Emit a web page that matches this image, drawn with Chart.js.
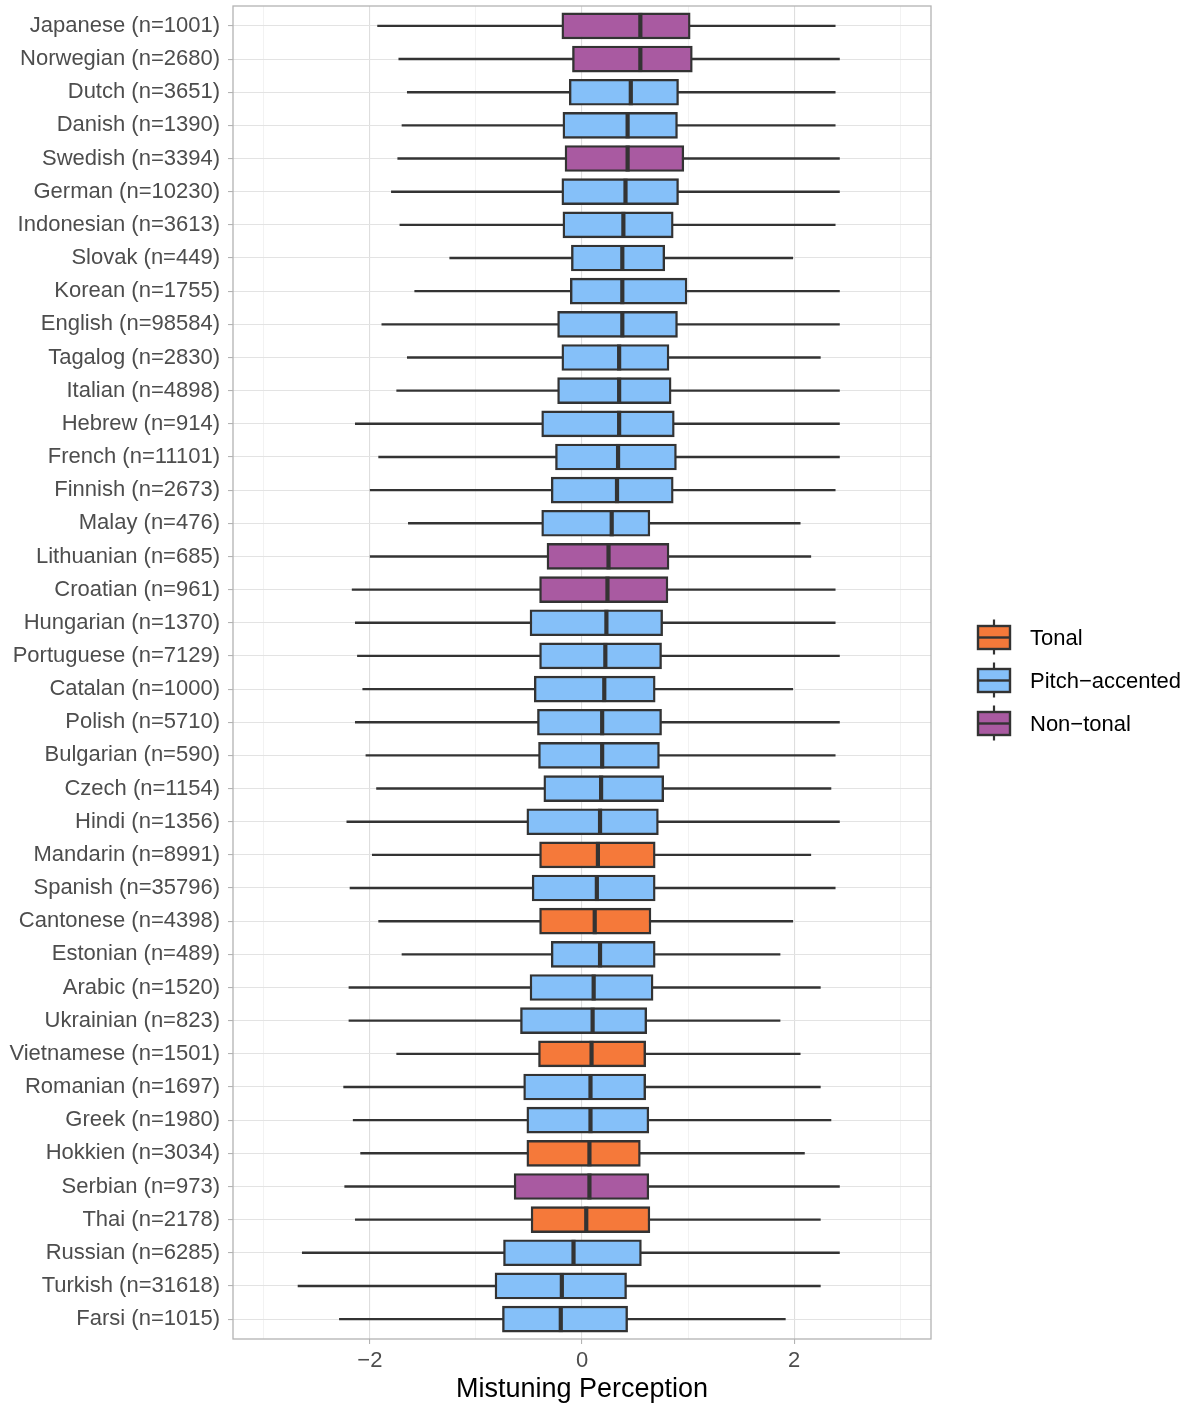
<!DOCTYPE html>
<html>
<head>
<meta charset="utf-8">
<script src="https://cdn.jsdelivr.net/npm/chart.js@4.4.1/dist/chart.umd.min.js"></script>
<style>
  html, body { margin:0; padding:0; background:#fff; }
  #wrap { position:relative; width:1188px; height:1406px; }
</style>
</head>
<body>
<div id="wrap"><canvas id="box" width="1188" height="1406"></canvas></div>
<script>
// languages, top to bottom
const languages = [
  'Japanese (n=1001)','Norwegian (n=2680)','Dutch (n=3651)','Danish (n=1390)','Swedish (n=3394)',
  'German (n=10230)','Indonesian (n=3613)','Slovak (n=449)','Korean (n=1755)','English (n=98584)',
  'Tagalog (n=2830)','Italian (n=4898)','Hebrew (n=914)','French (n=11101)','Finnish (n=2673)',
  'Malay (n=476)','Lithuanian (n=685)','Croatian (n=961)','Hungarian (n=1370)','Portuguese (n=7129)',
  'Catalan (n=1000)','Polish (n=5710)','Bulgarian (n=590)','Czech (n=1154)','Hindi (n=1356)',
  'Mandarin (n=8991)','Spanish (n=35796)','Cantonese (n=4398)','Estonian (n=489)','Arabic (n=1520)',
  'Ukrainian (n=823)','Vietnamese (n=1501)','Romanian (n=1697)','Greek (n=1980)','Hokkien (n=3034)',
  'Serbian (n=973)','Thai (n=2178)','Russian (n=6285)','Turkish (n=31618)','Farsi (n=1015)'
];
const langType = [
  'Non-tonal','Non-tonal','Pitch-accented','Pitch-accented','Non-tonal',
  'Pitch-accented','Pitch-accented','Pitch-accented','Pitch-accented','Pitch-accented',
  'Pitch-accented','Pitch-accented','Pitch-accented','Pitch-accented','Pitch-accented',
  'Pitch-accented','Non-tonal','Non-tonal','Pitch-accented','Pitch-accented',
  'Pitch-accented','Pitch-accented','Pitch-accented','Pitch-accented','Pitch-accented',
  'Tonal','Pitch-accented','Tonal','Pitch-accented','Pitch-accented',
  'Pitch-accented','Tonal','Pitch-accented','Pitch-accented','Tonal',
  'Non-tonal','Tonal','Pitch-accented','Pitch-accented','Pitch-accented'
];
// box stats
const whiskerLow = [-1.93,-1.73,-1.65,-1.70,-1.74,-1.80,-1.72,-1.25,-1.58,-1.89,
  -1.65,-1.75,-2.14,-1.92,-2.00,-1.64,-2.00,-2.17,-2.14,-2.12,
  -2.07,-2.14,-2.04,-1.94,-2.22,-1.98,-2.19,-1.92,-1.70,-2.20,
  -2.20,-1.75,-2.25,-2.16,-2.09,-2.24,-2.14,-2.64,-2.68,-2.29];
const q1 = [-0.19,-0.09,-0.12,-0.18,-0.16,-0.19,-0.18,-0.10,-0.11,-0.23,
  -0.19,-0.23,-0.38,-0.25,-0.29,-0.38,-0.33,-0.40,-0.49,-0.40,
  -0.45,-0.42,-0.41,-0.36,-0.52,-0.40,-0.47,-0.40,-0.29,-0.49,
  -0.58,-0.41,-0.55,-0.52,-0.52,-0.64,-0.48,-0.74,-0.82,-0.75];
const median = [0.55,0.55,0.46,0.43,0.43,0.41,0.39,0.38,0.38,0.38,
  0.35,0.35,0.35,0.34,0.33,0.28,0.25,0.24,0.23,0.22,
  0.21,0.19,0.19,0.18,0.17,0.15,0.14,0.12,0.17,0.11,
  0.10,0.09,0.08,0.08,0.07,0.07,0.04,-0.08,-0.19,-0.20];
const q3 = [1.02,1.04,0.91,0.90,0.96,0.91,0.86,0.78,0.99,0.90,
  0.82,0.84,0.87,0.89,0.86,0.64,0.82,0.81,0.76,0.75,
  0.69,0.75,0.73,0.77,0.72,0.69,0.69,0.65,0.69,0.67,
  0.61,0.60,0.60,0.63,0.55,0.63,0.64,0.56,0.42,0.43];
const whiskerHigh = [2.39,2.43,2.39,2.39,2.43,2.43,2.39,1.99,2.43,2.43,
  2.25,2.43,2.43,2.43,2.39,2.06,2.16,2.39,2.39,2.43,
  1.99,2.43,2.39,2.35,2.43,2.16,2.39,1.99,1.87,2.25,
  1.87,2.06,2.25,2.35,2.10,2.43,2.25,2.43,2.25,1.92];

const legendTypes = ['Tonal','Pitch-accented','Non-tonal'];
const legendLabels = ['Tonal','Pitch\u2212accented','Non\u2212tonal'];
const typeColors = { 'Tonal':'#F5793A', 'Pitch-accented':'#85C0F9', 'Non-tonal':'#A95AA1' };
const xTicks = [-3,-2,-1,0,1,2,3];

const FONT = '"Liberation Sans", Arial, sans-serif';
const INK = '#333333';

// whiskers behind boxes, medians + panel border on top, legend on right
const boxExtras = {
  id: 'boxExtras',
  beforeDatasetsDraw(chart){
    const {ctx, scales:{x, y}} = chart;
    ctx.save();
    ctx.strokeStyle = INK; ctx.lineWidth = 2.4;
    languages.forEach((l, i)=>{
      const py = y.getPixelForValue(i);
      ctx.beginPath();
      ctx.moveTo(x.getPixelForValue(whiskerLow[i]), py);
      ctx.lineTo(x.getPixelForValue(whiskerHigh[i]), py);
      ctx.stroke();
    });
    ctx.restore();
  },
  afterDatasetsDraw(chart){
    const {ctx, chartArea:a, scales:{x, y}} = chart;
    ctx.save();
    ctx.strokeStyle = INK; ctx.lineWidth = 4.2;
    languages.forEach((l, i)=>{
      const py = y.getPixelForValue(i);
      const px = x.getPixelForValue(median[i]);
      ctx.beginPath();
      ctx.moveTo(px, py - 13); ctx.lineTo(px, py + 13);
      ctx.stroke();
    });
    // panel border
    ctx.strokeStyle = '#b3b3b3'; ctx.lineWidth = 1.3;
    ctx.strokeRect(a.left, a.top, a.right - a.left, a.bottom - a.top);
    // legend
    legendTypes.forEach((t, i)=>{
      const cy = 637.5 + 43*i;
      ctx.strokeStyle = INK; ctx.lineWidth = 2.2;
      ctx.beginPath(); ctx.moveTo(994, cy - 18); ctx.lineTo(994, cy + 17); ctx.stroke();
      ctx.fillStyle = typeColors[t];
      ctx.fillRect(978, cy - 11.5, 32, 23);
      ctx.lineWidth = 2.4;
      ctx.strokeRect(978, cy - 11.5, 32, 23);
      ctx.beginPath(); ctx.moveTo(978, cy); ctx.lineTo(1010, cy); ctx.stroke();
      ctx.fillStyle = '#000';
      ctx.font = '22px ' + FONT;
      ctx.textBaseline = 'middle';
      ctx.textAlign = 'left';
      ctx.fillText(legendLabels[i], 1030, cy + 1);
    });
    ctx.restore();
  }
};

document.addEventListener('DOMContentLoaded', function(){
  const ctx = document.getElementById('box').getContext('2d');
  new Chart(ctx, {
    type: 'bar',
    data: {
      datasets: [{
        data: languages.map((l, i)=>({ x: [q1[i], q3[i]], y: i })),
        backgroundColor: langType.map(t => typeColors[t]),
        borderColor: INK,
        borderWidth: 2.4,
        borderSkipped: false,
        barThickness: 26
      }]
    },
    options: {
      indexAxis: 'y',
      responsive: false,
      maintainAspectRatio: false,
      animation: false,
      devicePixelRatio: 1,
      layout: { padding: { top: 6, right: 257, bottom: 0, left: 0 } },
      plugins: { legend: { display: false }, tooltip: { enabled: false } },
      scales: {
        x: {
          type: 'linear', min: -3.29, max: 3.29,
          afterBuildTicks: ax => { ax.ticks = xTicks.map(v => ({ value: v })); },
          afterFit: sc => { sc.height = 67; sc.paddingLeft = 0; sc.paddingRight = 0; },
          border: { display: false },
          grid: {
            color: c => (c.tick && Math.abs(c.tick.value) % 2 === 1) ? '#ededed' : '#dedede',
            lineWidth: c => (c.tick && Math.abs(c.tick.value) % 2 === 1) ? 0.7 : 1.1,
            tickColor: c => (c.tick && Math.abs(c.tick.value) % 2 === 1) ? 'rgba(0,0,0,0)' : '#b3b3b3',
            tickLength: 5, tickWidth: 1.1
          },
          ticks: {
            autoSkip: false, maxRotation: 0, padding: 4,
            color: '#4d4d4d', font: { family: FONT, size: 22 },
            callback: v => (Math.abs(v) % 2 === 0) ? (v < 0 ? '\u2212' + Math.abs(v) : String(v)) : ''
          },
          title: {
            display: true, text: 'Mistuning Perception', color: '#000',
            font: { family: FONT, size: 27 }, padding: { top: 0, bottom: 0 }
          }
        },
        y: {
          type: 'linear', reverse: true, offset: false,
          min: -0.6, max: languages.length - 0.4,
          afterBuildTicks: ax => { ax.ticks = languages.map((l, i) => ({ value: i })); },
          afterFit: sc => { sc.width = 233; sc.paddingTop = 0; sc.paddingBottom = 0; },
          border: { display: false },
          grid: { offset: false, color: '#e3e3e3', lineWidth: 1.1, tickColor: '#b3b3b3', tickLength: 5, tickWidth: 1.1 },
          ticks: {
            autoSkip: false, padding: 8,
            color: '#4d4d4d', font: { family: FONT, size: 22 },
            callback: v => languages[v]
          }
        }
      }
    },
    plugins: [boxExtras]
  });
});
</script>
</body>
</html>
